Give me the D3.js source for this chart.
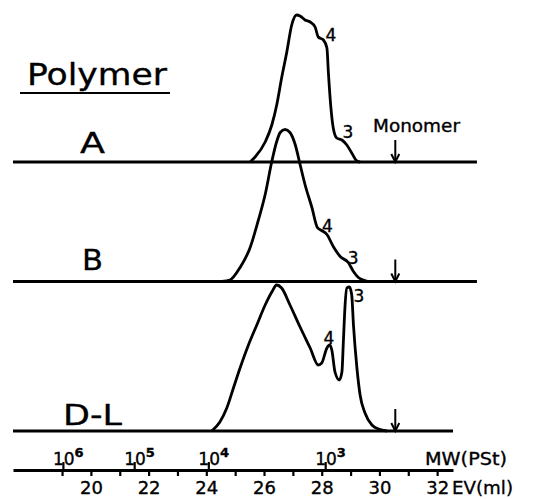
<!DOCTYPE html>
<html>
<head>
<meta charset="utf-8">
<script src="https://cdn.jsdelivr.net/npm/d3@7"></script>
<style>
  body { margin: 0; background: #fff; }
  svg { display: block; }
  text { font-family: "DejaVu Sans", sans-serif; fill: #000; stroke: #000; stroke-width: 0.35px; }
</style>
</head>
<body>
<svg id="gpc" width="550" height="499"></svg>
<script>
// elution volume (ml) vs detector height
const evA = [25.52, 25.69, 26.04, 26.27, 26.44, 26.61, 26.79, 26.96, 27.13, 27.25, 27.42, 27.60,
             27.77, 27.88, 28.06, 28.18, 28.23, 28.31, 28.40, 28.52, 28.70, 28.87, 29.04, 29.22, 29.33];
const hA  = [0, 5, 20, 37, 57, 84, 110, 137, 147, 146, 142, 140,
             135, 125, 122, 114, 90, 57, 34, 24, 22, 17, 9, 1, 0];

const evB = [24.54, 24.82, 25.17, 25.52, 25.79, 26.04, 26.27, 26.44, 26.56, 26.73, 26.90, 27.08,
             27.25, 27.42, 27.66, 27.85, 28.00, 28.18, 28.40, 28.64, 28.92, 29.10, 29.27, 29.45, 29.62];
const hB  = [0, 1.5, 14, 34, 60, 87, 120, 140, 149, 152, 149, 137,
             117, 97, 74, 54, 51, 47, 35, 25, 19, 10, 4, 1.4, 0];

const evDL = [24.19, 24.47, 24.71, 24.94, 25.17, 25.46, 25.75, 26.04, 26.27, 26.44, 26.61, 26.90,
              27.25, 27.60, 27.88, 28.00, 28.18, 28.27, 28.35, 28.46, 28.61, 28.70, 28.75, 28.81,
              28.87, 28.96, 29.04, 29.10, 29.22, 29.33, 29.50, 29.74, 29.97, 30.26];
const hDL  = [0, 9, 23, 43, 63, 86, 106, 126, 139, 146, 143, 126,
              104, 83, 66, 68, 83, 86, 81, 59, 51, 59, 89, 126,
              143, 144, 136, 106, 63, 36, 18, 6, 2, 0];

const polymers = ['A', 'B', 'D-L'];
const baseEnd = [33.38, 33.38, 32.55];      // right end of each baseline (ml)
const peakTags = [
  [{t: '4', ev: 28.32, h: 127}, {t: '3', ev: 28.91, h: 30}],
  [{t: '4', ev: 28.20, h: 56}, {t: '3', ev: 29.09, h: 24}],
  [{t: '4', ev: 28.25, h: 93}, {t: '3', ev: 29.29, h: 135}]
];
const monomerEV = 30.55;

const evTicks = d3.range(19, 33);
const mwEV = [19.03, 21.5, 24.07, 28.12];
const mwExp = ['6', '5', '4', '3'];

const svg = d3.select('svg#gpc');

const xStart = 17.3;
const x = d3.scaleLinear().domain([xStart, 32.55]).range([13, 453]);

// panel baselines (px)
const baseY = [162, 281.5, 431];
const series = [
  evA.map((e, i) => ({ev: e, h: hA[i]})),
  evB.map((e, i) => ({ev: e, h: hB[i]})),
  evDL.map((e, i) => ({ev: e, h: hDL[i]}))
];

series.forEach((data, i) => {
  const y = d3.scaleLinear().domain([0, 150]).range([baseY[i], baseY[i] - 150]);
  const g = svg.append('g').attr('class', 'trace');

  g.append('line')
    .attr('x1', x(xStart)).attr('x2', x(baseEnd[i]))
    .attr('y1', y(0)).attr('y2', y(0))
    .attr('stroke', '#000').attr('stroke-width', 2.8);

  const line = d3.line()
    .x(d => x(d.ev))
    .y(d => y(d.h))
    .curve(d3.curveMonotoneX);

  g.append('path')
    .datum(data)
    .attr('d', line)
    .attr('fill', 'none')
    .attr('stroke', '#000')
    .attr('stroke-width', 2.8)
    .attr('stroke-linejoin', 'round');

  g.selectAll('.tag').data(peakTags[i]).enter().append('text')
    .attr('class', 'tag')
    .attr('x', d => x(d.ev))
    .attr('y', d => y(d.h))
    .attr('dy', '0.36em')
    .attr('text-anchor', 'middle')
    .style('font-size', '17px')
    .text(d => d.t);

  // monomer arrow
  const ax = x(monomerEV);
  g.append('line')
    .attr('x1', ax).attr('x2', ax)
    .attr('y1', y(22)).attr('y2', y(0))
    .attr('stroke', '#000').attr('stroke-width', 2);
  g.append('path')
    .attr('d', `M${ax - 4},${y(8)} L${ax},${y(0)} L${ax + 4},${y(8)}`)
    .attr('fill', 'none').attr('stroke', '#000').attr('stroke-width', 2);
});

// labels
svg.append('text')
  .attr('x', 27).attr('y', 85)
  .attr('textLength', 140).attr('lengthAdjust', 'spacingAndGlyphs')
  .style('font-size', '30px')
  .text('Polymer');
svg.append('line')
  .attr('x1', 20).attr('x2', 170).attr('y1', 93).attr('y2', 93)
  .attr('stroke', '#000').attr('stroke-width', 2);

const labelBase = [153, 270, 425];
const labelWidth = [25, 21, 59];
polymers.forEach((p, i) => {
  svg.append('text')
    .attr('x', 92.5).attr('y', labelBase[i])
    .attr('text-anchor', 'middle')
    .attr('textLength', labelWidth[i]).attr('lengthAdjust', 'spacingAndGlyphs')
    .style('font-size', '29px')
    .text(p);
});

svg.append('text')
  .attr('x', 373).attr('y', 132)
  .attr('textLength', 87).attr('lengthAdjust', 'spacingAndGlyphs')
  .style('font-size', '17px')
  .text('Monomer');

// EV axis
const axisY = 470;
const evAxis = d3.axisBottom(x)
  .tickValues(evTicks)
  .tickFormat(d => d % 2 === 0 ? d : '')
  .tickSize(6)
  .tickSizeOuter(0)
  .tickPadding(5);

const evG = svg.append('g')
  .attr('transform', `translate(0,${axisY})`)
  .call(evAxis);
evG.select('.domain').attr('stroke-width', 2.8);
evG.selectAll('.tick line').attr('stroke-width', 2.2);
evG.selectAll('.tick text')
  .style('font-family', '"DejaVu Sans", sans-serif')
  .style('font-size', '18px');

svg.append('text')
  .attr('x', 452).attr('y', 494)
  .attr('textLength', 61).attr('lengthAdjust', 'spacingAndGlyphs')
  .style('font-size', '18px')
  .text('EV(ml)');

// MW (PSt) axis on top of the same line
const mwAxis = d3.axisTop(x)
  .tickValues(mwEV)
  .tickFormat('')
  .tickSize(8)
  .tickSizeOuter(0);
const mwG = svg.append('g')
  .attr('transform', `translate(0,${axisY})`)
  .call(mwAxis);
mwG.select('.domain').remove();
mwG.selectAll('.tick line').attr('stroke-width', 2.2);

const mwLab = svg.selectAll('.mw').data(mwEV).enter().append('text')
  .attr('class', 'mw')
  .attr('x', d => x(d) - 10)
  .attr('y', 465)
  .style('font-size', '17px');
mwLab.append('tspan').text('10');
mwLab.append('tspan')
  .attr('dy', -8)
  .style('font-size', '13px')
  .style('font-weight', 'bold')
  .text((d, i) => mwExp[i]);

svg.append('text')
  .attr('x', 425).attr('y', 465)
  .attr('textLength', 82).attr('lengthAdjust', 'spacingAndGlyphs')
  .style('font-size', '17px')
  .text('MW(PSt)');
</script>
</body>
</html>
